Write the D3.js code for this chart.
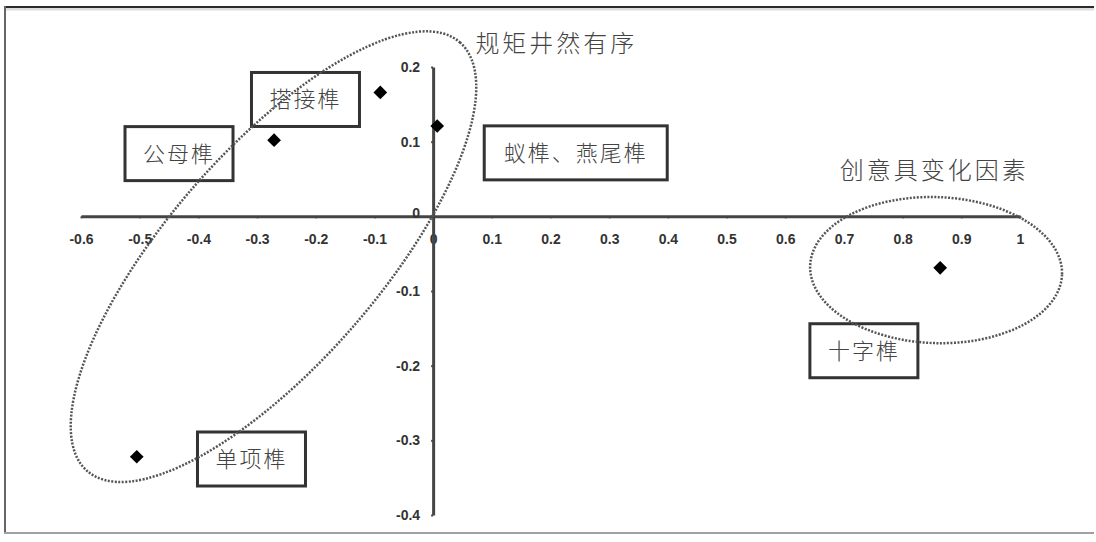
<!DOCTYPE html>
<html>
<head>
<meta charset="utf-8">
<script src="https://cdn.jsdelivr.net/npm/d3@7"></script>
<style>
  body { margin: 0; background: #fff; }
  svg { display: block; }
  .tick text { font-family: "Liberation Sans Narrow", "Liberation Sans", sans-serif; font-weight: bold; font-size: 14px; fill: #333; }
</style>
</head>
<body>
<div id="chart"></div>
<script>
// axis ticks
const xTicks = [-0.6, -0.5, -0.4, -0.3, -0.2, -0.1, 0, 0.1, 0.2, 0.3, 0.4, 0.5, 0.6, 0.7, 0.8, 0.9, 1];
const yTicks = [0.2, 0.1, 0, -0.1, -0.2, -0.3, -0.4];

// joints: diamond points
const joints = ['搭接榫', '公母榫', '蚁榫、燕尾榫', '单项榫', '十字榫'];
const jointX = [-0.09, -0.271, 0.007, -0.505, 0.864];
const jointY = [0.166, 0.102, 0.121, -0.322, -0.069];

// label boxes (centre, in data units)
const boxText = ['公母榫', '搭接榫', '蚁榫、燕尾榫', '十字榫', '单项榫'];
const boxX = [-0.433, -0.2175, 0.243, 0.734, -0.3095];
const boxY = [0.084, 0.1565, 0.085, -0.180, -0.325];

// group headings and their ellipses
const groupText = ['规矩井然有序', '创意具变化因素'];
const groupX = [0.072, 0.693];
const groupY = [0.22, 0.05];
const ellX = [-0.272, 0.857];
const ellY = [-0.054, -0.072];

const width = 1096;
const height = 542;

const svg = d3.select('#chart')
  .append('svg')
  .attr('width', width)
  .attr('height', height);

// scanned-figure frame
svg.append('line').attr('x1', 4).attr('x2', 1094).attr('y1', 9).attr('y2', 9)
  .attr('stroke', '#ddd').attr('stroke-width', 3);
svg.append('line').attr('x1', 4).attr('x2', 1094).attr('y1', 7).attr('y2', 7)
  .attr('stroke', '#2b2b2b').attr('stroke-width', 2);
svg.append('line').attr('x1', 5).attr('x2', 5).attr('y1', 6).attr('y2', 534)
  .attr('stroke', '#666').attr('stroke-width', 2);
svg.append('line').attr('x1', 4).attr('x2', 1094).attr('y1', 533).attr('y2', 533)
  .attr('stroke', '#a0a0a0').attr('stroke-width', 2);

const x = d3.scaleLinear().domain([-0.6, 1]).range([81, 1020]);
const y = d3.scaleLinear().domain([0.2, -0.4]).range([67, 515]);

const fmt = d => d === 0 ? '0' : d === 1 ? '1' : d.toFixed(1);

// x axis through y = 0
const xAxis = svg.append('g')
  .attr('transform', `translate(0,${y(0)})`)
  .call(d3.axisBottom(x).tickValues(xTicks).tickSizeInner(2).tickSizeOuter(0).tickPadding(16).tickFormat(fmt));

// y axis through x = 0
const yAxis = svg.append('g')
  .attr('transform', `translate(${x(0)},0)`)
  .call(d3.axisLeft(y).tickValues(yTicks).tickSizeInner(2).tickSizeOuter(0).tickPadding(11).tickFormat(fmt));

[xAxis, yAxis].forEach(a => {
  a.select('.domain').attr('stroke', '#444').attr('stroke-width', 3);
  a.selectAll('.tick line').attr('stroke', '#444').attr('stroke-width', 2);
});
yAxis.selectAll('.tick text').filter(d => d === 0).attr('dy', '0.1em');

// label boxes
const boxes = svg.selectAll('g.box')
  .data(boxText)
  .enter()
  .append('g')
  .attr('class', 'box')
  .attr('transform', (d, i) => `translate(${x(boxX[i])},${y(boxY[i])})`);

boxes.append('rect')
  .attr('x', d => -(d.length * 25 + 33) / 2)
  .attr('y', -27)
  .attr('width', d => d.length * 25 + 33)
  .attr('height', 54)
  .attr('fill', 'none')
  .attr('stroke', '#333')
  .attr('stroke-width', 3);

boxes.append('text')
  .text(d => d)
  .attr('text-anchor', 'middle')
  .attr('dy', '0.36em')
  .attr('font-family', '"Noto Sans CJK SC", sans-serif')
  .attr('font-weight', 300)
  .attr('font-size', 22)
  .attr('letter-spacing', 2)
  .attr('fill', '#444');

// group headings
svg.selectAll('text.group')
  .data(groupText)
  .enter()
  .append('text')
  .attr('class', 'group')
  .text(d => d)
  .attr('x', (d, i) => x(groupX[i]))
  .attr('y', (d, i) => y(groupY[i]))
  .attr('font-family', '"Noto Sans CJK SC", sans-serif')
  .attr('font-weight', 300)
  .attr('font-size', 24)
  .attr('letter-spacing', 3)
  .attr('fill', '#444');

// dotted grouping ellipses (radii in px, tilt in degrees)
const ellRx = [284, 126];
const ellRy = [106, 73];
const ellTilt = [-49, 2];

svg.selectAll('ellipse.grp')
  .data(ellX)
  .enter()
  .append('ellipse')
  .attr('class', 'grp')
  .attr('cx', 0)
  .attr('cy', 0)
  .attr('rx', (d, i) => ellRx[i])
  .attr('ry', (d, i) => ellRy[i])
  .attr('transform', (d, i) => `translate(${x(ellX[i])},${y(ellY[i])}) rotate(${ellTilt[i]})`)
  .attr('fill', 'none')
  .attr('stroke', '#555')
  .attr('stroke-width', 2.5)
  .attr('stroke-dasharray', '2,1.5');

// diamonds
svg.selectAll('path.pt')
  .data(joints)
  .enter()
  .append('path')
  .attr('class', 'pt')
  .attr('d', d3.symbol(d3.symbolDiamond2, 120))
  .attr('transform', (d, i) => `translate(${x(jointX[i])},${y(jointY[i])})`)
  .attr('fill', '#000');
</script>
</body>
</html>
